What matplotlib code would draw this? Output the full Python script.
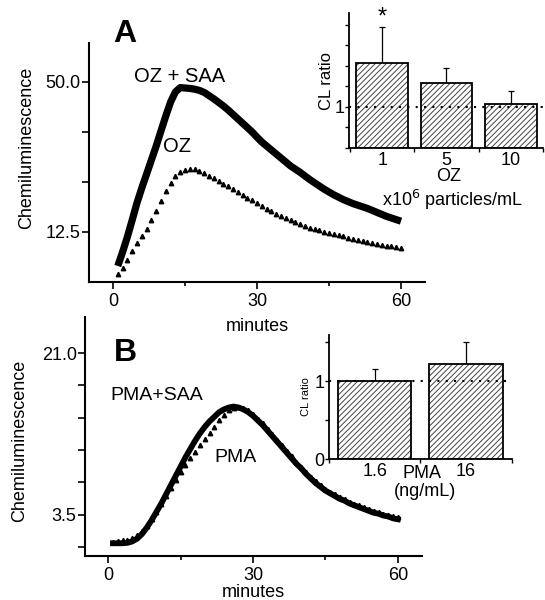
"""Chemiluminescence time courses (A: OZ, B: PMA) with CL-ratio insets."""

import matplotlib

matplotlib.use("Agg")
import matplotlib.pyplot as plt
import numpy as np

plt.rcParams["font.family"] = ["Liberation Sans", "DejaVu Sans"]
plt.rcParams["hatch.linewidth"] = 0.7

# ---- data -------------------------------------------------------------
minutes = np.arange(1, 61)

oz_saa = [
    4.0, 7.5, 11.3, 15.5, 19.8, 23.5, 27.0, 30.5, 34.0, 37.8,
    41.5, 45.0, 47.5, 48.6, 48.5, 48.4, 48.2, 47.9, 47.4, 46.6,
    45.8, 44.9, 44.0, 43.0, 41.9, 40.8, 39.7, 38.6, 37.5, 36.2,
    35.0, 34.0, 33.0, 32.0, 31.0, 30.0, 29.0, 28.2, 27.4, 26.5,
    25.6, 24.8, 24.0, 23.2, 22.5, 21.8, 21.2, 20.6, 20.1, 19.6,
    19.2, 18.8, 18.4, 17.9, 17.4, 16.9, 16.4, 16.0, 15.6, 15.2,
]
oz = [
    2.0, 3.5, 5.6, 7.8, 9.8, 11.5, 13.3, 15.5, 17.7, 20.2,
    22.7, 24.7, 26.4, 27.5, 28.0, 28.3, 28.2, 27.7, 27.2, 26.6,
    26.0, 25.3, 24.6, 23.9, 23.2, 22.5, 21.8, 21.1, 20.4, 19.7,
    19.0, 18.3, 17.7, 17.1, 16.5, 15.9, 15.4, 14.9, 14.4, 14.0,
    13.6, 13.2, 12.9, 12.6, 12.3, 12.0, 11.7, 11.4, 11.1, 10.8,
    10.5, 10.2, 10.0, 9.8, 9.5, 9.3, 9.1, 8.9, 8.7, 8.5,
]
pma_saa = [
    0.4, 0.4, 0.4, 0.45, 0.6, 0.9, 1.4, 2.1, 2.9, 3.8,
    4.7, 5.7, 6.7, 7.7, 8.7, 9.7, 10.6, 11.5, 12.3, 13.0,
    13.6, 14.1, 14.6, 14.9, 15.1, 15.2, 15.1, 14.9, 14.6, 14.2,
    13.7, 13.2, 12.6, 12.0, 11.4, 10.8, 10.2, 9.6, 9.0, 8.5,
    7.9, 7.4, 6.9, 6.5, 6.1, 5.8, 5.5, 5.2, 5.0, 4.7,
    4.5, 4.3, 4.1, 3.9, 3.7, 3.6, 3.4, 3.3, 3.1, 3.0,
]
pma = [
    0.5, 0.6, 0.7, 0.8, 1.0, 1.3, 1.7, 2.3, 3.0, 3.8,
    4.6, 5.5, 6.4, 7.3, 8.1, 8.9, 9.6, 10.3, 11.0, 11.7,
    12.3, 13.0, 13.7, 14.3, 14.8, 15.1, 15.2, 15.1, 14.8, 14.4,
    13.9, 13.4, 12.8, 12.2, 11.6, 11.0, 10.4, 9.8, 9.2, 8.7,
    8.1, 7.6, 7.1, 6.7, 6.3, 6.0, 5.7, 5.4, 5.2, 4.9,
    4.7, 4.5, 4.3, 4.1, 3.9, 3.8, 3.6, 3.5, 3.3, 3.2,
]

oz_doses = ["1", "5", "10"]
oz_ratio = [2.07, 1.58, 1.07]
oz_ratio_err = [0.88, 0.37, 0.32]

pma_doses = ["1.6", "16"]
pma_ratio = [1.0, 1.22]
pma_ratio_err = [0.15, 0.28]

W, H = 545, 600
fig = plt.figure(figsize=(W / 100, H / 100), dpi=100)


def px_axes(left, right, top, bottom):
    """Axes placed by pixel edges (origin top-left)."""
    return fig.add_axes([left / W, 1 - bottom / H, (right - left) / W, (bottom - top) / H])


def style_axes(ax, lw=1.5):
    for s in ("top", "right"):
        ax.spines[s].set_visible(False)
    for s in ("left", "bottom"):
        ax.spines[s].set_linewidth(lw)


def time_panel(ax, ylim, yticks, ylabels, fs=13):
    style_axes(ax)
    ax.set_xlim(-5, 65)
    ax.set_ylim(*ylim)
    ax.set_xticks([0, 30, 60])
    ax.set_xticks([15, 45], minor=True)
    ax.set_yticks(yticks)
    ax.set_yticklabels(ylabels)
    ax.tick_params(axis="both", which="both", direction="out", width=1.2, labelsize=fs)
    ax.tick_params(axis="x", which="major", length=5, pad=3)
    ax.tick_params(axis="x", which="minor", length=3)
    ax.tick_params(axis="y", length=5, pad=1)
    ax.set_xlabel("minutes", fontsize=fs)
    ax.set_ylabel("Chemiluminescence", fontsize=fs)


def ratio_inset(ax, labels, vals, errs, xlim, ylim, yticks, ylabels, fs, ylabel_fs):
    style_axes(ax, 1.3)
    x = np.arange(1, len(vals) + 1)
    ax.bar(x, vals, width=0.8, color="white", edgecolor="#444444", hatch="//////",
           linewidth=0, zorder=2)
    ax.bar(x, vals, width=0.8, fill=False, edgecolor="black", linewidth=1.3, zorder=3)
    ax.errorbar(x, vals, yerr=[np.zeros(len(errs)), errs], fmt="none",
                ecolor="black", elinewidth=0.9, capsize=2.5, capthick=0.9, zorder=1)
    ax.axhline(1, color="black", linestyle=(0, (1, 3)), linewidth=1.5, zorder=4)
    ax.set_xlim(*xlim)
    ax.set_ylim(*ylim)
    ax.set_xticks(x)
    ax.set_xticklabels(labels)
    ax.set_xticks(np.arange(0.5, len(vals) + 1), minor=True)
    ax.tick_params(axis="x", which="major", length=0, pad=3, labelsize=fs)
    ax.tick_params(axis="x", which="minor", length=3, width=1)
    ax.set_yticks(yticks)
    ax.set_yticklabels(ylabels)
    ax.tick_params(axis="y", length=3, width=1, pad=0, labelsize=fs)
    ax.set_ylabel("CL ratio", fontsize=ylabel_fs)


# ---- panel A ----------------------------------------------------------
axA = px_axes(89, 425, 43, 282)
axA.plot(minutes, oz, linestyle="none", marker="^", markersize=3.2, color="black")
axA.plot(minutes, oz_saa, color="black", linewidth=5.2, solid_capstyle="butt")
time_panel(axA, (0, 59.75), [12.5, 25, 37.5, 50], ["12.5", "", "", "50.0"])
axA.xaxis.set_label_coords(0.5, -0.15)
axA.yaxis.set_label_coords(-0.16, 0.56)
fig.text(125 / W, 1 - 34 / H, "A", fontsize=23, fontweight="bold", ha="center", va="center")
fig.text(180 / W, 1 - 76 / H, "OZ + SAA", fontsize=14.5, ha="center", va="center")
fig.text(177 / W, 1 - 147 / H, "OZ", fontsize=14.5, ha="center", va="center")

# ---- panel B ----------------------------------------------------------
axB = px_axes(85, 422, 317, 556)
axB.set_facecolor("none")
time_panel(axB, (-0.98, 24.9), [0, 3.5, 7, 10.5, 14, 17.5, 21],
           ["", "3.5", "", "", "", "", "21.0"])
axB.set_xlim(-4.8, 65)
axB.plot(minutes, pma, linestyle="none", marker="^", markersize=3.2, color="black")
axB.plot(minutes, pma_saa, color="black", linewidth=4.2)
axB.xaxis.set_label_coords(0.5, -0.118)
axB.yaxis.set_label_coords(-0.17, 0.48)
fig.text(125 / W, 1 - 353 / H, "B", fontsize=23, fontweight="bold", ha="center", va="center")
fig.text(157 / W, 1 - 395 / H, "PMA+SAA", fontsize=14, ha="center", va="center")
fig.text(235 / W, 1 - 458 / H, "PMA", fontsize=14, ha="center", va="center")

# ---- insets -----------------------------------------------------------
insA = px_axes(349, 543, 13, 148)
ratio_inset(insA, oz_doses, oz_ratio, oz_ratio_err, (0.485, 3.42), (0, 3.29),
            np.arange(0, 3.01, 0.5), ["", "", "1", "", "", "", ""], 13, 12)
insA.yaxis.set_label_coords(-0.075, 0.5)
insA.text(1, oz_ratio[0] + oz_ratio_err[0] + 0.22, "*", ha="center", va="center",
          fontsize=17)
fig.text(449 / W, 1 - 177 / H, "OZ", fontsize=13, ha="center", va="center")
fig.text(453 / W, 1 - 200 / H, r"x10$^{6}$ particles/mL", fontsize=13, ha="center", va="center")

insB = px_axes(329, 512, 335, 459)
ratio_inset(insB, pma_doses, pma_ratio, pma_ratio_err, (0.503, 2.503), (0, 1.59),
            [0, 0.5, 1, 1.5], ["0", "", "1", ""], 13, 8)
insB.yaxis.set_label_coords(-0.1, 0.5)
fig.text(422 / W, 1 - 474 / H, "PMA", fontsize=13, ha="center", va="center")
fig.text(425 / W, 1 - 492 / H, "(ng/mL)", fontsize=13, ha="center", va="center")

fig.savefig("out.png", dpi=100)
